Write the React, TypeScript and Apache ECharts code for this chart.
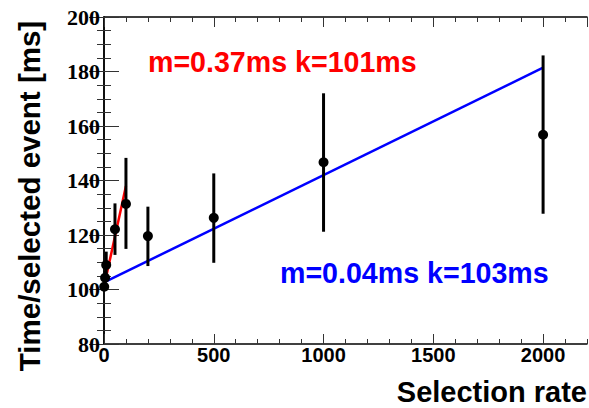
import React, { useEffect, useRef } from "react";
import * as echarts from "echarts";

// Selection rate (x), time per selected event (y), error bar low / high
const rates = [1, 5, 10, 50, 100, 200, 500, 1000, 2000];
const times = [101.0, 104.3, 109.0, 122.1, 131.4, 119.6, 126.3, 146.7, 156.8];
const errLow = [99.5, 101.8, 104.2, 112.7, 114.9, 108.6, 109.8, 121.2, 127.8];
const errHigh = [102.5, 106.8, 113.9, 131.6, 148.3, 130.4, 142.6, 172.0, 185.9];

// Fit lines: low-rate fit (red) and full-range fit (blue)
const redFitX = [0, 100];
const redFitY = [101, 138];
const blueFitX = [0, 2000];
const blueFitY = [102.6, 181.4];

const redLabel = "m=0.37ms k=101ms";
const blueLabel = "m=0.04ms k=103ms";
const xTitle = "Selection rate";
const yTitle = "Time/selected event [ms]";

const X_MIN = 0;
const X_MAX = 2200;
const Y_MIN = 80;
const Y_MAX = 200;

export default function App() {
  const ref = useRef<HTMLDivElement>(null);

  useEffect(() => {
    if (!ref.current) return;
    const chart = echarts.init(ref.current, undefined, { renderer: "svg" });

    const sans = "'Liberation Sans', Arial, Helvetica, sans-serif";
    const serif = "'Liberation Serif', 'Times New Roman', serif";
    const frame = { show: true, lineStyle: { color: "#000", width: 1.5 } };
    const tickStyle = { color: "#333", width: 1 };
    const plain = (v: number) => String(v);

    const xBase = { type: "value", min: X_MIN, max: X_MAX, splitLine: { show: false } };
    const yBase = { type: "value", min: Y_MIN, max: Y_MAX, splitLine: { show: false } };

    const errData = rates.map((r, i) => [r, errLow[i], errHigh[i]]);
    const ptData = rates.map((r, i) => [r, times[i]]);

    chart.setOption({
      animation: false,
      backgroundColor: "#fff",
      grid: { left: 104, right: 2, top: 17, bottom: 64, containLabel: false },
      xAxis: [
        {
          ...xBase,
          position: "bottom",
          interval: 500,
          axisLine: frame,
          axisTick: { show: true, inside: true, length: 10, lineStyle: tickStyle },
          axisLabel: {
            show: true,
            showMaxLabel: false,
            margin: 1,
            formatter: plain,
            color: "#000",
            fontFamily: sans,
            fontWeight: "bold",
            fontSize: 20,
          },
        },
        {
          ...xBase,
          position: "bottom",
          interval: 100,
          axisLine: { show: false },
          axisTick: { show: true, inside: true, length: 5, lineStyle: tickStyle },
          axisLabel: { show: false },
        },
        {
          ...xBase,
          position: "top",
          interval: 500,
          axisLine: frame,
          axisTick: { show: true, inside: true, length: 10, lineStyle: tickStyle },
          axisLabel: { show: false },
        },
        {
          ...xBase,
          position: "top",
          interval: 100,
          axisLine: { show: false },
          axisTick: { show: true, inside: true, length: 5, lineStyle: tickStyle },
          axisLabel: { show: false },
        },
      ],
      yAxis: [
        {
          ...yBase,
          position: "left",
          interval: 20,
          axisLine: frame,
          axisTick: { show: true, inside: true, length: 15, lineStyle: tickStyle },
          axisLabel: {
            show: true,
            margin: 4,
            formatter: plain,
            color: "#000",
            fontFamily: serif,
            fontWeight: "bold",
            fontSize: 22,
          },
        },
        {
          ...yBase,
          position: "left",
          interval: 5,
          axisLine: { show: false },
          axisTick: { show: true, inside: true, length: 7, lineStyle: tickStyle },
          axisLabel: { show: false },
        },
        {
          ...yBase,
          position: "right",
          interval: 20,
          axisLine: frame,
          axisTick: { show: true, inside: true, length: 15, lineStyle: tickStyle },
          axisLabel: { show: false },
        },
        {
          ...yBase,
          position: "right",
          interval: 5,
          axisLine: { show: false },
          axisTick: { show: true, inside: true, length: 7, lineStyle: tickStyle },
          axisLabel: { show: false },
        },
      ],
      series: [
        {
          type: "line",
          xAxisIndex: 0,
          yAxisIndex: 0,
          data: blueFitX.map((x, i) => [x, blueFitY[i]]),
          showSymbol: false,
          symbol: "none",
          lineStyle: { color: "#0000ff", width: 2.5 },
          z: 2,
        },
        {
          type: "line",
          xAxisIndex: 0,
          yAxisIndex: 0,
          data: redFitX.map((x, i) => [x, redFitY[i]]),
          showSymbol: false,
          symbol: "none",
          lineStyle: { color: "#ff0000", width: 2.5 },
          z: 2,
        },
        {
          type: "custom",
          xAxisIndex: 0,
          yAxisIndex: 0,
          data: errData,
          z: 3,
          renderItem: (params: any, api: any) => {
            const x = api.value(0);
            const p1 = api.coord([x, api.value(1)]);
            const p2 = api.coord([x, api.value(2)]);
            return {
              type: "line",
              shape: { x1: p1[0], y1: p1[1], x2: p2[0], y2: p2[1] },
              style: { stroke: "#000", lineWidth: 3 },
            };
          },
        },
        {
          type: "scatter",
          xAxisIndex: 0,
          yAxisIndex: 0,
          data: ptData,
          symbol: "circle",
          symbolSize: 10,
          itemStyle: { color: "#000", opacity: 1 },
          z: 4,
        },
      ],
      graphic: [
        {
          type: "text",
          left: 148,
          top: 47,
          style: {
            text: redLabel,
            fill: "#ff0000",
            font: `bold 28.6px ${sans}`,
          },
        },
        {
          type: "text",
          left: 280,
          top: 258,
          style: {
            text: blueLabel,
            fill: "#0000ff",
            font: `bold 28.6px ${sans}`,
          },
        },
        {
          type: "text",
          x: 587,
          y: 392,
          style: {
            text: xTitle,
            fill: "#000",
            font: `bold 29px ${sans}`,
            textAlign: "right",
            textVerticalAlign: "middle",
          },
        },
        {
          type: "text",
          x: 29,
          y: 196,
          rotation: Math.PI / 2,
          style: {
            text: yTitle,
            fill: "#000",
            font: `bold 29.5px ${sans}`,
            textAlign: "center",
            textVerticalAlign: "middle",
          },
        },
      ],
    });

    return () => {
      chart.dispose();
    };
  }, []);

  return (
    <div
      ref={ref}
      style={{ position: "fixed", left: 0, top: 0, width: 589, height: 408, background: "#fff" }}
    />
  );
}
